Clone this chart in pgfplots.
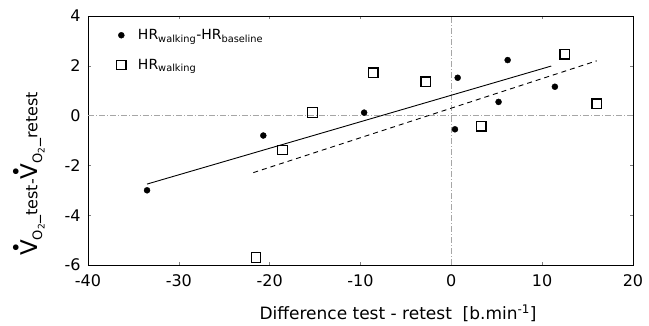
\documentclass[border=0pt]{standalone}
\usepackage{fontspec}
\setmainfont{DejaVu Sans}
\usepackage{pgfplots}
\pgfplotsset{compat=1.18}
\newcommand{\Vdot}{\makebox[0pt][l]{\hspace{0.08em}\raisebox{0.6em}{\scalebox{0.85}{\textbullet}}}V}
\begin{document}
\begin{tikzpicture}
\useasboundingbox (-88pt,-61pt) rectangle (561pt,265pt);
\begin{axis}[
  at={(0pt,0pt)}, anchor=south west,
  scale only axis, width=545pt, height=249pt,
  xmin=-40, xmax=20, ymin=-6, ymax=4,
  xtick={-40,-30,...,20}, ytick={-6,-4,...,4},
  /pgf/number format/assume math mode=true,
  ticklabel style={font=\fontsize{16}{18}\selectfont},
  xticklabel style={yshift=-6pt},
  yticklabel style={xshift=-4pt},
  tick style={gray, thin},
  major tick length=3pt,
  tick align=inside,
  axis line style={black, line width=0.9pt},
  every axis x label/.style={at={(axis description cs:0.569,-0.193)}, anchor=center},
  every axis y label/.style={at={(axis description cs:-0.108,0.366)}, rotate=90, anchor=center},
  xlabel={\fontsize{17}{19}\selectfont Difference test - retest\ \ [b.min\textsuperscript{-1}]},
  ylabel={{\fontsize{23}{25}\selectfont\Vdot}{\fontsize{13}{14}\selectfont\raisebox{-0.35em}{O\textsubscript{2}}}{\fontsize{16}{18}\selectfont\_test-}{\fontsize{23}{25}\selectfont\Vdot}{\fontsize{13}{14}\selectfont\raisebox{-0.35em}{O\textsubscript{2}}}{\fontsize{16}{18}\selectfont\_retest}},
  legend style={at={(axis description cs:0.052,0.955)}, anchor=north west, draw=none, fill=none,
    font=\fontsize{14}{16}\selectfont, row sep=14pt, inner sep=0pt},
  legend cell align=left,
  legend image code/.code={\path (0pt,0pt) (14pt,0pt); \draw plot coordinates {(0pt,0pt)};},
  clip=false,
]
\addplot[gray!70, line width=0.5pt, dash pattern=on 6pt off 2pt on 1pt off 2pt, forget plot] coordinates {(-40,0) (20,0)};
\addplot[gray!70, line width=0.5pt, dash pattern=on 6pt off 2pt on 1pt off 2pt, forget plot] coordinates {(0,-6) (0,4)};
\addplot[only marks, mark=*, mark size=3pt, black] coordinates {
(-33.5,-3.0) (-20.7,-0.8) (-9.6,0.12) (0.4,-0.55) (0.7,1.52) (5.2,0.55) (6.2,2.23) (11.4,1.16)};
\addlegendentry{HR\textsubscript{walking}-HR\textsubscript{baseline}}
\addplot[only marks, mark=square, mark size=4.8pt, black, line width=1.3pt, mark options={fill=white}] coordinates {
(-21.5,-5.7) (-18.6,-1.38) (-15.3,0.13) (-8.6,1.72) (-2.8,1.36) (3.3,-0.42) (12.5,2.47) (16.0,0.47)};
\addlegendentry{HR\textsubscript{walking}}
\addplot[black, line width=0.9pt, forget plot] coordinates {(-33.5,-2.75) (11.0,1.99)};
\addplot[black, line width=0.9pt, dash pattern=on 5pt off 4pt, forget plot] coordinates {(-21.8,-2.29) (16.0,2.2)};
\end{axis}
\end{tikzpicture}
\end{document}
